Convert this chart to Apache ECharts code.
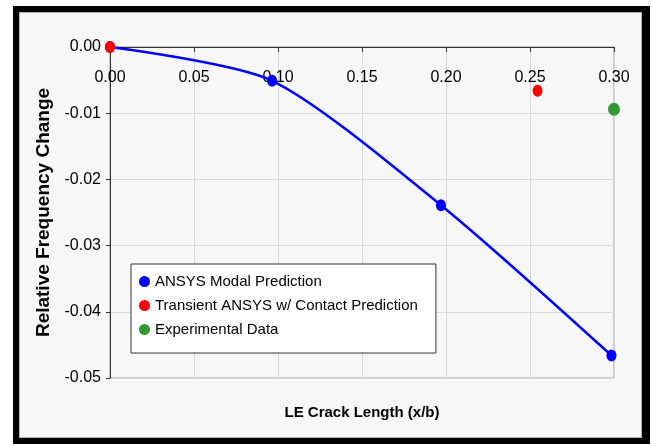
<!DOCTYPE html>
<html>
<head>
<meta charset="utf-8">
<script src="https://cdn.jsdelivr.net/npm/echarts@6/dist/echarts.min.js"></script>
<style>
  html, body { margin: 0; padding: 0; background: #fff; }
  #frame {
    position: absolute; left: 13px; top: 6px; width: 637px; height: 438px;
    box-sizing: border-box; background: #f7f7f7;
    border-style: solid; border-color: #000; border-width: 6px 8px 6px 6px;
    box-shadow: inset 0 0 0 1px #b0b0b0;
  }
  #main { position: absolute; left: 0; top: 0; width: 652px; height: 445px; }
</style>
</head>
<body>
<div id="frame"></div>
<div id="main"></div>
<script>
// crack length (x/b) vs relative frequency change
const modalX = [0, 0.0965, 0.197, 0.2985];
const modalY = [0, -0.0051, -0.0239, -0.0466];
const transientX = [0, 0.2545];
const transientY = [0, -0.0066];
const expX = [0.3];
const expY = [-0.0094];

const seriesNames = ['ANSYS Modal Prediction', 'Transient ANSYS w/ Contact Prediction', 'Experimental Data'];
const xTitle = 'LE Crack Length (x/b)';
const yTitle = 'Relative Frequency Change';

const font = 'Liberation Sans, Arial, sans-serif';
const pairs = (xs, ys) => xs.map((x, i) => [x, ys[i]]);

const chart = echarts.init(document.getElementById('main'));

const option = {
  animation: false,
  backgroundColor: 'transparent',
  grid: {
    left: 110, top: 47, right: 38, bottom: 67,
    show: true, borderColor: '#999', borderWidth: 1,
    backgroundColor: 'transparent'
  },
  legend: {
    orient: 'vertical',
    left: 131, top: 264,
    padding: [9, 18, 15, 8],
    itemGap: 7,
    itemWidth: 11, itemHeight: 13,
    icon: 'circle',
    backgroundColor: '#fff',
    borderColor: '#333', borderWidth: 1,
    z: 10,
    textStyle: { fontFamily: font, fontSize: 15, color: '#000', lineHeight: 17 },
    data: seriesNames
  },
  xAxis: {
    type: 'value',
    position: 'top',
    min: 0, max: 0.3, interval: 0.05,
    axisLine: { onZero: false, lineStyle: { color: '#333', width: 1 } },
    axisTick: { show: true, inside: true, length: 5, lineStyle: { color: '#333' } },
    axisLabel: {
      inside: true, margin: 23,
      fontFamily: font, fontSize: 16, color: '#000',
      formatter: v => v.toFixed(2)
    },
    splitLine: { show: true, lineStyle: { color: '#d9d9d9', width: 1 } }
  },
  yAxis: {
    type: 'value',
    min: -0.05, max: 0, interval: 0.01,
    name: yTitle,
    nameLocation: 'middle',
    nameGap: 52,
    nameTextStyle: { fontFamily: font, fontSize: 19, fontWeight: 'bold', color: '#000' },
    axisLine: { show: true, onZero: false, lineStyle: { color: '#333', width: 1 } },
    axisTick: { show: true, length: 4, lineStyle: { color: '#333' } },
    axisLabel: {
      margin: 9,
      fontFamily: font, fontSize: 16, color: '#000',
      formatter: v => v.toFixed(2)
    },
    splitLine: { show: true, lineStyle: { color: '#d9d9d9', width: 1 } }
  },
  graphic: [{
    type: 'text',
    x: 362, y: 413,
    style: {
      text: xTitle,
      font: 'bold 15px ' + font,
      fill: '#000',
      align: 'center', verticalAlign: 'middle',
      textAlign: 'center', textVerticalAlign: 'middle'
    }
  }],
  series: [
    {
      name: seriesNames[0],
      type: 'line',
      data: pairs(modalX, modalY),
      smooth: 0.25,
      symbol: 'circle',
      symbolSize: [10, 12],
      itemStyle: { color: '#0000ff', opacity: 1 },
      lineStyle: { color: '#0000ff', width: 2.5 },
      z: 3
    },
    {
      name: seriesNames[1],
      type: 'scatter',
      data: pairs(transientX, transientY),
      symbol: 'circle',
      symbolSize: [10, 12],
      itemStyle: { color: '#ff0000', opacity: 1 },
      z: 4
    },
    {
      name: seriesNames[2],
      type: 'scatter',
      data: pairs(expX, expY),
      symbol: 'circle',
      symbolSize: [12, 13],
      itemStyle: { color: '#339933', opacity: 1 },
      z: 4
    }
  ]
};

chart.setOption(option);
</script>
</body>
</html>
